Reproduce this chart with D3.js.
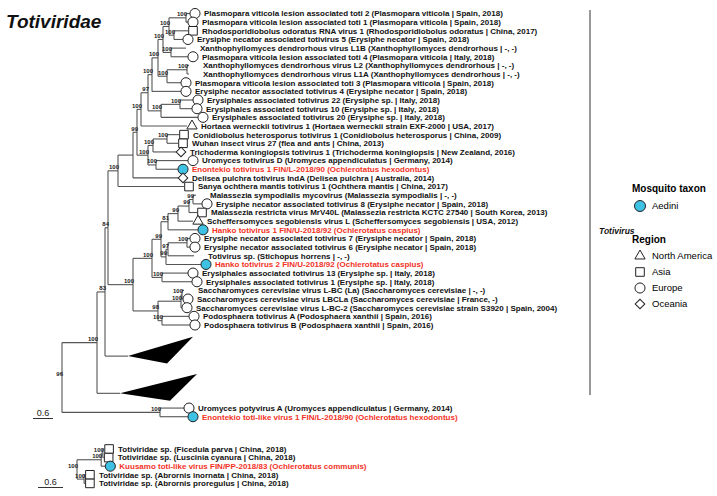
<!DOCTYPE html>
<html>
<head>
<meta charset="utf-8">
<script src="https://cdn.jsdelivr.net/npm/d3@7"></script>
<style>
  body { margin: 0; background: #fff; }
  svg { display: block; font-family: "Liberation Sans", Arial, sans-serif; }
</style>
</head>
<body>
<div id="tree"></div>
<script>
var svgWidth = 717;
var svgHeight = 496;

// Data
// ==============================
const leafNames = [
  "Plasmopara viticola lesion associated toti 2 (Plasmopara viticola | Spain, 2018)",
  "Plasmopara viticola lesion associated toti 1 (Plasmopara viticola | Spain, 2018)",
  "Rhodosporidiobolus odoratus RNA virus 1 (Rhodosporidiobolus odoratus | China, 2017)",
  "Erysiphe necator associated totivirus 5 (Erysiphe necator | Spain, 2018)",
  "Xanthophyllomyces dendrorhous virus L1B (Xanthophyllomyces dendrorhous | -, -)",
  "Plasmopara viticola lesion associated toti 4 (Plasmopara viticola | Italy, 2018)",
  "Xanthophyllomyces dendrorhous virus L2 (Xanthophyllomyces dendrorhous | -, -)",
  "Xanthophyllomyces dendrorhous virus L1A (Xanthophyllomyces dendrorhous | -, -)",
  "Plasmopara viticola lesion associated toti 3 (Plasmopara viticola | Spain, 2018)",
  "Erysiphe necator associated totivirus 4 (Erysiphe necator | Spain, 2018)",
  "Erysiphales associated totivirus 22 (Erysiphe sp. | Italy, 2018)",
  "Erysiphales associated totivirus 10 (Erysiphe sp. | Italy, 2018)",
  "Erysiphales associated totivirus 20 (Erysiphe sp. | Italy, 2018)",
  "Hortaea werneckii totivirus 1 (Hortaea werneckii strain EXF-2000 | USA, 2017)",
  "Conidiobolus heterosporus totivirus 1 (Conidiobolus heterosporus | China, 2009)",
  "Wuhan insect virus 27 (flea and ants | China, 2013)",
  "Trichoderma koningiopsis totivirus 1 (Trichoderma koningiopsis | New Zealand, 2016)",
  "Uromyces totivirus D (Uromyces appendiculatus | Germany, 2014)",
  "Enontekio totivirus 1 FIN/L-2018/90 (Ochlerotatus hexodontus)",
  "Delisea pulchra totivirus IndA (Delisea pulchra | Australia, 2014)",
  "Sanya ochthera mantis totivirus 1 (Ochthera mantis | China, 2017)",
  "Malassezia sympodialis mycovirus (Malassezia sympodialis | -, -)",
  "Erysiphe necator associated totivirus 8 (Erysiphe necator | Spain, 2018)",
  "Malassezia restricta virus MrV40L (Malassezia restricta KCTC 27540 | South Korea, 2013)",
  "Scheffersomyces segobiensis virus L (Scheffersomyces segobiensis | USA, 2012)",
  "Hanko totivirus 1 FIN/U-2018/92 (Ochlerotatus caspius)",
  "Erysiphe necator associated totivirus 7 (Erysiphe necator | Spain, 2018)",
  "Erysiphe necator associated totivirus 6 (Erysiphe necator | Spain, 2018)",
  "Totivirus sp. (Stichopus horrens | -, -)",
  "Hanko totivirus 2 FIN/U-2018/92 (Ochlerotatus caspius)",
  "Erysiphales associated totivirus 13 (Erysiphe sp. | Italy, 2018)",
  "Erysiphales associated totivirus 1 (Erysiphe sp. | Italy, 2018)",
  "Saccharomyces cerevisiae virus L-BC (La) (Saccharomyces cerevisiae | -, -)",
  "Saccharomyces cerevisiae virus LBCLa (Saccharomyces cerevisiae | France, -)",
  "Saccharomyces cerevisiae virus L-BC-2 (Saccharomyces cerevisiae strain S3920 | Spain, 2004)",
  "Podosphaera totivirus A (Podosphaera xanthii | Spain, 2016)",
  "Podosphaera totivirus B (Podosphaera xanthii | Spain, 2016)",
  "Uromyces potyvirus A (Uromyces appendiculatus | Germany, 2014)",
  "Enontekio toti-like virus 1 FIN/L-2018/90 (Ochlerotatus hexodontus)"
];
const leafRegion = ["EU","EU","AS","EU","","EU","","","EU","EU","EU","EU","EU","NA","AS","AS","OC","EU","EU","OC",
                    "AS","","EU","AS","NA","EU","EU","EU","","EU","EU","EU","","EU","EU","EU","EU","EU","EU"];
const aediniLeaves = ["t19","t26","t30","t39","b3"];

// collapsed clades: rows they take and far-tip depths from the apex (top, bottom)
const collapsedNames = ["c1","c2"];
const collapsedRows = [4.3, 4.3];
const collapsedTips = [[1.95, 1.17], [2.31, 1.50]];

// main tree, branch lengths in substitutions/site, internal labels = bootstrap
const mainNewick = `
(
 (
  (
   (
    (
     (
      (
       (
        (
         (
          (
           (
            ((t1:0.12,t2:0.06)100:0.51,(t3:0.42,t4:0.27)100:0.15)100:0.18,
            (t5:0.45,t6:0.51)100:0.24
           )100:0.15,
           ((t7:0.06,t8:0.06)100:0.60,t9:0.42)100:0.27
          )100:0.18,
          t10:0.87
         )100:0.12,
         ((t11:0.39,t12:0.36)100:0.57,t13:1.11)100:0.39
        )97:0.21,
        t14:1.38
       )100:0.12,
       (((t15:0.36,t16:0.33)100:0.42,t17:0.69)100:0.15,(t18:0.96,t19:0.66)100:0.24)100:0.33
      )99:0.12,
      t20:1.35
     ):0.45,
     t21:1.98
    )100:0.30,
    (
     (
      (
       ((((t22:0.09,t23:0.27)99:0.12,t24:0.24)99:0.33,t25:0.45)99:0.30,t26:0.90)81:0.21,
       (((t27:0.09,t28:0.09)100:0.57,t29:0.78)97:0.06,t30:1.05)99:0.15
      )99:0.27,
      (t31:0.78,t32:0.90)100:0.30
     )100:0.57,
     (((t33:0.06,t34:0.03)100:0.03,t35:0.03)100:0.69,(t36:0.81,t37:0.84)100:0.12)98:0.75
    )100:0.75
   )84:0.09,
   c1:0.69
  )83:0.24,
  c2:0.69
 )100:1.05,
 (t38:0.72,t39:0.84)100:2.94
)96;`;

// second (bird-associated) tree
const bottomNames = [
  "Totiviridae sp. (Ficedula parva | China, 2018)",
  "Totiviridae sp. (Luscinia cyanura | China, 2018)",
  "Kuusamo toti-like virus FIN/PP-2018/83 (Ochlerotatus communis)",
  "Totiviridae sp. (Abrornis inornata | China, 2018)",
  "Totiviridae sp. (Abrornis proregulus | China, 2018)"
];
const bottomRegion = ["AS","AS","EU","AS","AS"];
const bottomNewick = "(((b1:0.03,b2:0.02)100:0.04,b3:0.10)100:0.58,(b4:0.02,b5:0.02)100:0.17)100;";

const scaleBarValue = 0.6;
const legendTaxa = ["Aedini"];
const legendRegions = [["NA","North America"],["AS","Asia"],["EU","Europe"],["OC","Oceania"]];

const red = "#f2321f", blue = "#3ec1e3", lineColor = "#555";

// Newick parser
// ==============================
function parseNewick(s) {
  var tokens = s.replace(/\s+/g, "").split(/\s*(;|\(|\)|,|:)\s*/);
  var stack = [], node = {};
  tokens.forEach(function(tok, i) {
    switch (tok) {
      case "(":
        var child = {};
        node.children = [child];
        stack.push(node);
        node = child;
        break;
      case ",":
        var sib = {};
        stack[stack.length - 1].children.push(sib);
        node = sib;
        break;
      case ")":
        node = stack.pop();
        break;
      case ":":
      case ";":
        break;
      default:
        var prev = tokens[i - 1];
        if (prev === ":") node.length = +tok;
        else if (tok !== "") node.name = tok;
    }
  });
  return node;
}

var svg = d3.select("#tree")
  .append("svg")
  .attr("width", svgWidth)
  .attr("height", svgHeight);

svg.append("rect").attr("width", svgWidth).attr("height", svgHeight).attr("fill", "#fff");

// symbol for a tip
function tipSymbol(region, aedini) {
  if (aedini) return d3.symbol(d3.symbolCircle, 80)();
  if (region === "EU") return d3.symbol(d3.symbolCircle, 80)();
  if (region === "AS") return d3.symbol(d3.symbolSquare, 74)();
  if (region === "NA") return d3.symbol(d3.symbolTriangle, 46)();
  if (region === "OC") return d3.symbol(d3.symbolSquare, 46)();
  return null;
}

function drawTree(newick, xScale, yScale, names, regions) {
  var g = svg.append("g");
  var root = d3.hierarchy(parseNewick(newick), d => d.children);

  root.eachBefore(d => { d.dist = d.parent ? d.parent.dist + (d.data.length || 0) : 0; });

  var cursor = 0;
  root.leaves().forEach(function(d) {
    var k = collapsedNames.indexOf(d.data.name);
    if (k >= 0) {
      var top = cursor - 0.5, size = collapsedRows[k];
      d.clade = { top: top, size: size, tips: collapsedTips[k] };
      d.row = top + 0.72 * size;
      cursor = top + size + 0.5;
    } else {
      d.row = cursor;
      cursor += 1;
    }
  });
  root.eachAfter(d => {
    if (d.children) d.row = (d.children[0].row + d.children[d.children.length - 1].row) / 2;
  });
  root.each(d => { d.px = xScale(d.dist); d.py = yScale(d.row); });

  // horizontal branches
  g.selectAll("line.h")
    .data(root.descendants().filter(d => d.parent))
    .enter()
    .append("line")
    .attr("x1", d => d.parent.px)
    .attr("x2", d => d.px)
    .attr("y1", d => d.py)
    .attr("y2", d => d.py)
    .attr("stroke", lineColor)
    .attr("stroke-width", 1.1);

  // vertical connectors
  g.selectAll("line.v")
    .data(root.descendants().filter(d => d.children))
    .enter()
    .append("line")
    .attr("x1", d => d.px)
    .attr("x2", d => d.px)
    .attr("y1", d => d.children[0].py)
    .attr("y2", d => d.children[d.children.length - 1].py)
    .attr("stroke", lineColor)
    .attr("stroke-width", 1.1);

  // collapsed clades
  var clades = root.leaves().filter(d => d.clade);
  g.selectAll("path.clade")
    .data(clades)
    .enter()
    .append("path")
    .attr("d", d => {
      var c = d.clade;
      return "M" + d.px + "," + d.py +
        "L" + xScale(d.dist + c.tips[0]) + "," + yScale(c.top + 0.2 * c.size) +
        "L" + xScale(d.dist + c.tips[1]) + "," + yScale(c.top + 0.92 * c.size) + "Z";
    })
    .attr("fill", "#000");

  // bootstrap values
  g.selectAll("text.boot")
    .data(root.descendants().filter(d => (d.children || d.clade) && d.data.name && !isNaN(+d.data.name)))
    .enter()
    .append("text")
    .attr("x", d => d.px + 1)
    .attr("y", d => d.py - 1.6)
    .attr("text-anchor", "end")
    .attr("font-size", "6px")
    .attr("font-weight", "bold")
    .attr("fill", "#222")
    .text(d => d.data.name);

  // tips
  var tips = root.leaves().filter(d => !d.clade);
  tips.forEach(d => {
    d.idx = +d.data.name.slice(1) - 1;
    d.aedini = aediniLeaves.indexOf(d.data.name) >= 0;
  });

  g.selectAll("path.tip")
    .data(tips.filter(d => tipSymbol(regions[d.idx], d.aedini)))
    .enter()
    .append("path")
    .attr("d", d => tipSymbol(regions[d.idx], d.aedini))
    .attr("transform", d => `translate(${d.px + 5}, ${d.py})` + (regions[d.idx] === "OC" && !d.aedini ? " rotate(45)" : ""))
    .attr("fill", d => d.aedini ? blue : "#fff")
    .attr("stroke", "#222")
    .attr("stroke-width", 1);

  g.selectAll("text.tip")
    .data(tips)
    .enter()
    .append("text")
    .attr("x", d => d.px + 14)
    .attr("y", d => d.py)
    .attr("dy", "0.36em")
    .attr("font-size", "8px")
    .attr("font-weight", "bold")
    .attr("fill", d => d.aedini ? red : "#111")
    .text(d => names[d.idx]);

  return root;
}

// Scales
// ==============================
var xMain = d3.scaleLinear().domain([0, scaleBarValue]).range([62, 82]);
var yMain = d3.scaleLinear().domain([0, 36]).range([13.5, 325]);
var xBottom = d3.scaleLinear().domain([0, scaleBarValue]).range([77, 102]);
var yBottom = d3.scaleLinear().domain([0, 4]).range([449, 483.4]);

drawTree(mainNewick, xMain, yMain, leafNames, leafRegion);
drawTree(bottomNewick, xBottom, yBottom, bottomNames, bottomRegion);

// scale bars
function scaleBar(x, y, scale) {
  var len = scale(scaleBarValue) - scale(0);
  svg.append("line")
    .attr("x1", x).attr("x2", x + len)
    .attr("y1", y).attr("y2", y)
    .attr("stroke", "#333").attr("stroke-width", 1);
  svg.append("text")
    .attr("x", x + len / 2).attr("y", y - 2.5)
    .attr("text-anchor", "middle")
    .attr("font-size", "9px")
    .attr("fill", "#222")
    .text(scaleBarValue);
}
scaleBar(33, 418.5, xMain);
scaleBar(38, 487.5, xBottom);

// title
svg.append("text")
  .attr("x", 6).attr("y", 27.5)
  .attr("font-size", "19px")
  .attr("font-weight", "bold")
  .attr("font-style", "italic")
  .attr("fill", "#111")
  .text("Totiviridae");

// Totivirus bracket
svg.append("line")
  .attr("x1", 590).attr("x2", 590)
  .attr("y1", 10).attr("y2", 395)
  .attr("stroke", "#333").attr("stroke-width", 1);
svg.append("text")
  .attr("x", 599).attr("y", 231).attr("dy", "0.35em")
  .attr("font-size", "8.5px")
  .attr("font-weight", "bold")
  .attr("font-style", "italic")
  .attr("fill", "#111")
  .text("Totivirus");

// Legend
// ==============================
var legend = svg.append("g");
legend.append("text")
  .attr("x", 632).attr("y", 188).attr("dy", "0.35em")
  .attr("font-size", "10px").attr("font-weight", "bold")
  .text("Mosquito taxon");

legend.selectAll("g.taxa")
  .data(legendTaxa)
  .enter()
  .append("g")
  .attr("transform", (d, i) => `translate(640, ${206 + i * 16})`)
  .each(function(d) {
    d3.select(this).append("path")
      .attr("d", d3.symbol(d3.symbolCircle, 95)())
      .attr("fill", blue).attr("stroke", "#222");
    d3.select(this).append("text")
      .attr("x", 12).attr("dy", "0.35em")
      .attr("font-size", "9.5px")
      .text(d);
  });

legend.append("text")
  .attr("x", 632).attr("y", 239).attr("dy", "0.35em")
  .attr("font-size", "10px").attr("font-weight", "bold")
  .text("Region");

legend.selectAll("g.region")
  .data(legendRegions)
  .enter()
  .append("g")
  .attr("transform", (d, i) => `translate(640, ${256 + i * 16})`)
  .each(function(d) {
    d3.select(this).append("path")
      .attr("d", tipSymbol(d[0], false))
      .attr("transform", d[0] === "OC" ? "rotate(45)" : null)
      .attr("fill", "#fff").attr("stroke", "#222");
    d3.select(this).append("text")
      .attr("x", 12).attr("dy", "0.35em")
      .attr("font-size", "9.5px")
      .text(d[1]);
  });
</script>
</body>
</html>
